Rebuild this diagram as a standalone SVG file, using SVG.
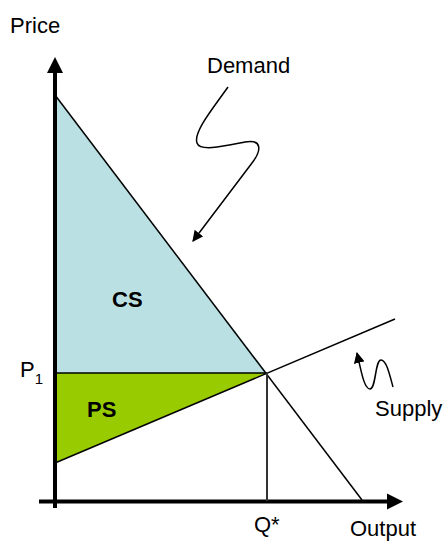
<svg xmlns="http://www.w3.org/2000/svg" width="448" height="541" viewBox="0 0 448 541">
  <defs>
    <marker id="ah" viewBox="0 0 10 10" refX="9" refY="5" markerWidth="11" markerHeight="11" markerUnits="userSpaceOnUse" orient="auto">
      <path d="M0,0 L10,5 L0,10 Z" fill="#000"/>
    </marker>
    <style>
      .lbl { font-family: "Liberation Sans", Arial, sans-serif; font-size: 22px; fill: #000; }
      .bold { font-weight: bold; }
      .curve { fill: none; stroke: #000; stroke-width: 1.5; }
      .ln { stroke: #000; stroke-width: 1.5; fill: none; }
      .axis { stroke: #000; stroke-width: 4; fill: none; }
    </style>
  </defs>
  <rect width="448" height="541" fill="#fff"/>

  <g id="cs-area">
    <polygon points="55,95 267,373 55,373" fill="#BBE0E3"/>
    <text class="lbl bold" x="112" y="307">CS</text>
  </g>
  <g id="ps-area">
    <polygon points="55,373 267,373 55,463" fill="#99CC00"/>
    <text class="lbl bold" x="87" y="417">PS</text>
  </g>

  <g id="axes">
    <line class="axis" x1="55" y1="508" x2="55" y2="72"/>
    <polygon points="55,57 47,73 63,73" fill="#000"/>
    <line class="axis" x1="39" y1="501.5" x2="388" y2="501.5"/>
    <polygon points="403,501.5 387,493.5 387,509.5" fill="#000"/>
    <text class="lbl" x="10" y="33">Price</text>
    <text class="lbl" x="350" y="536">Output</text>
  </g>

  <g id="connectors">
    <line id="demand-line" class="ln" x1="55" y1="95" x2="362" y2="500"/>
    <line id="supply-line" class="ln" x1="55" y1="463" x2="395" y2="319"/>
    <line id="p1-line" class="ln" x1="55" y1="373" x2="267" y2="373"/>
    <line id="q-line" x1="267" y1="373" x2="267" y2="501" stroke="#333" stroke-width="2"/>
    <path id="demand-pointer" class="curve" d="M228,87 C214,107 193,132 197,143 C200,152 225,146 245,142 C262,139 262,150 252,163 L193,241" marker-end="url(#ah)"/>
    <path id="supply-pointer" class="curve" d="M393,387 C389,372 386,360 381,360 C375,360 376,389 370,389 C364,389 361,370 357,353" marker-end="url(#ah)"/>
  </g>

  <g id="demand-label">
    <text class="lbl" x="207" y="73">Demand</text>
  </g>
  <g id="supply-label">
    <text class="lbl" x="375" y="416">Supply</text>
  </g>
  <g id="p1-label">
    <text class="lbl" x="20" y="377">P<tspan font-size="15" dy="7">1</tspan></text>
  </g>
  <g id="q-label">
    <text class="lbl" x="254" y="532">Q*</text>
  </g>
</svg>
